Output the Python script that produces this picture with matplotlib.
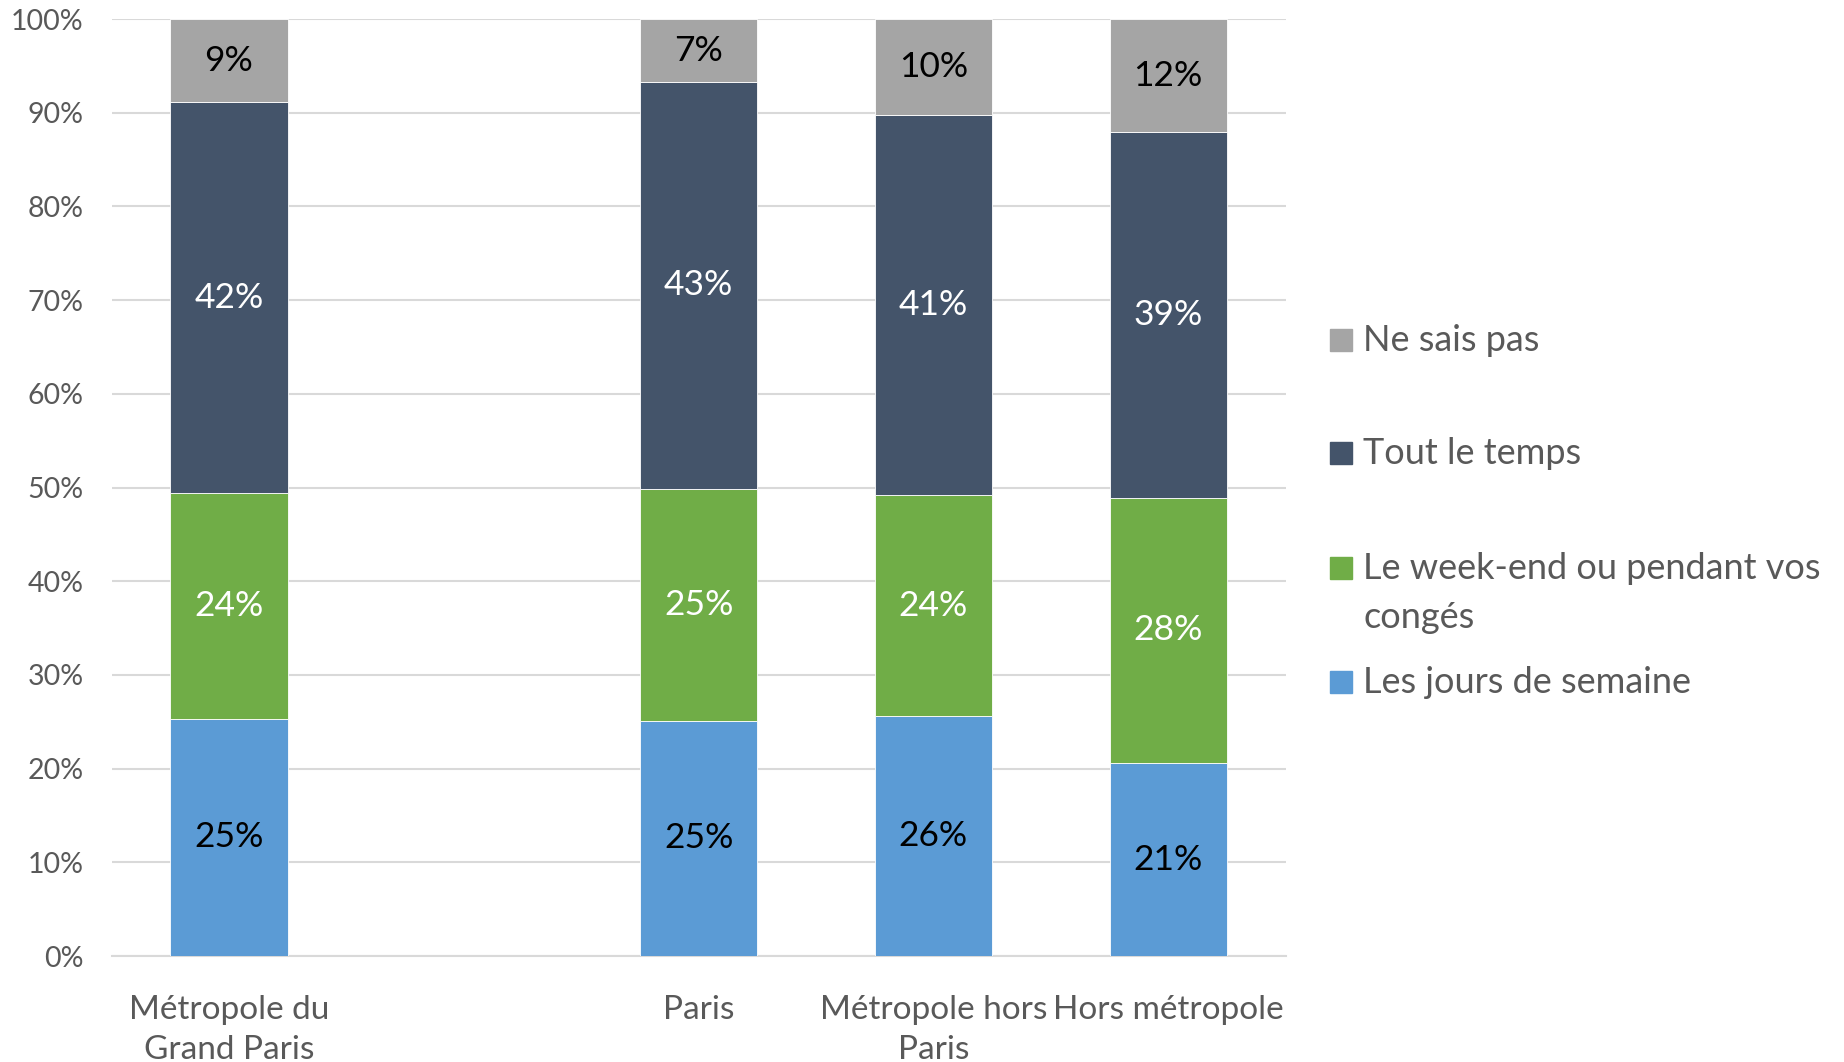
import matplotlib.pyplot as plt
from matplotlib.patches import Rectangle

plt.rcParams['font.family'] = ['Lato', 'DejaVu Sans']

categories = ["Métropole du\nGrand Paris", "Paris", "Métropole hors\nParis", "Hors métropole"]
series = ["Les jours de semaine", "Le week-end ou pendant vos\ncongés", "Tout le temps", "Ne sais pas"]
jours_semaine = [25.3, 25.1, 25.6, 20.6]
week_end = [24.1, 24.8, 23.6, 28.3]
tout_le_temps = [41.7, 43.4, 40.6, 39.0]
ne_sais_pas = [8.9, 6.7, 10.2, 12.1]

colors = ["#5B9BD5", "#70AD47", "#44546A", "#A5A5A5"]
label_colors = ["black", "white", "white", "black"]

# the second slot is left empty in the original chart
x = [0, 2, 3, 4]

fig = plt.figure(figsize=(18.44, 10.62), dpi=100)
ax = fig.add_axes([0.0605, 0.0998, 0.6367, 0.8822])

bottom = [0, 0, 0, 0]
for vals, col, lcol in zip([jours_semaine, week_end, tout_le_temps, ne_sais_pas], colors, label_colors):
    ax.bar(x, vals, width=0.5, bottom=bottom, color=col, edgecolor="white", linewidth=0.6, zorder=3)
    for xi, b, v in zip(x, bottom, vals):
        ax.text(xi, b + v / 2, f"{v:.0f}%", ha="center", va="center", color=lcol, fontsize=25.5, zorder=4)
    bottom = [b + v for b, v in zip(bottom, vals)]

ax.set_xlim(-0.5, 4.5)
ax.set_ylim(0, 100)
ax.set_yticks(range(0, 101, 10))
ax.set_yticklabels([f"{t}%" for t in range(0, 101, 10)])
ax.set_xticks(x)
ax.set_xticklabels(categories, fontsize=24, color="#595959", linespacing=1.4)
ax.tick_params(axis="y", labelsize=20.5, labelcolor="#595959", length=0, pad=20)
ax.tick_params(axis="x", length=0, pad=28)
ax.grid(axis="y", color="#D9D9D9", linewidth=1.5, zorder=0)
for s in ["left", "right", "top"]:
    ax.spines[s].set_visible(False)
ax.spines["bottom"].set_color("#D9D9D9")
ax.spines["bottom"].set_linewidth(1.5)

# legend drawn by hand to follow the uneven spacing of the original
legend_y = [340, 453, 568, 682]
for lab, col, yy in zip(series[::-1], colors[::-1], legend_y):
    fy = 1 - yy / 1062
    fig.patches.append(Rectangle((1330 / 1844, fy - 11 / 1062), 22 / 1844, 22 / 1062,
                                 transform=fig.transFigure, color=col))
    fig.text(1363 / 1844, fy + 16 / 1062, lab, ha="left", va="top", fontsize=26,
             color="#595959", linespacing=1.58)

fig.savefig("out.png", dpi=100)
